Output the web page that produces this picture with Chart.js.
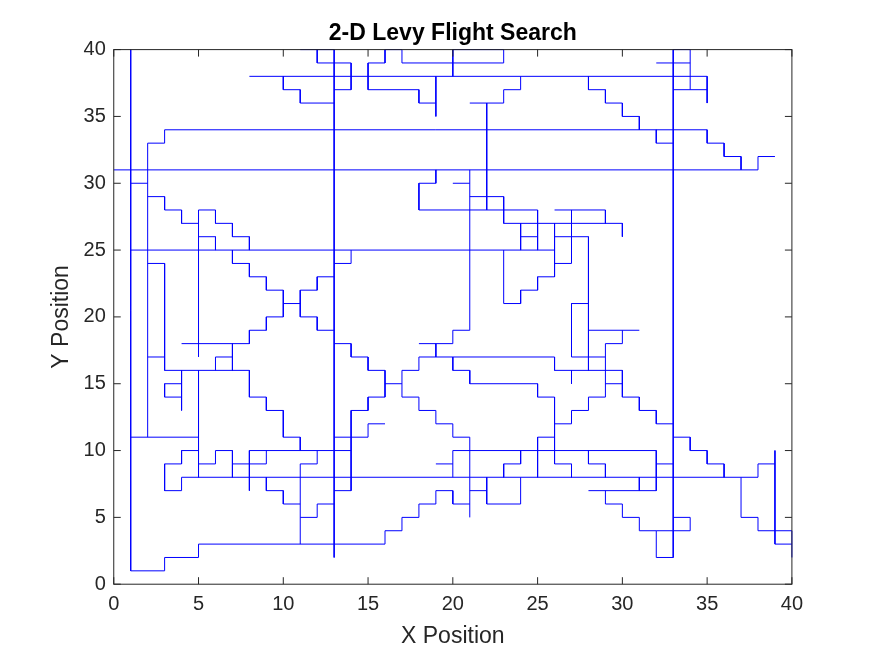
<!DOCTYPE html>
<html>
<head>
<meta charset="utf-8">
<script src="https://cdn.jsdelivr.net/npm/chart.js@4.4.1/dist/chart.umd.min.js"></script>
<style>
  html, body { margin: 0; padding: 0; background: #fff; }
</style>
</head>
<body>
<canvas id="chart" width="875" height="656"></canvas>
<script>
const upperSteps = [
  8,38, 35,38, 35,36, null,null,
  10,38, 10,37, 11,37, 11,36, 13,36, null,null,
  12,40, 12,39, 14,39, 14,37, 13,37, null,null,
  17,39, 17,40, 16,40, 16,39, 15,39, 15,37, 18,37, 18,36, 19,36, null,null,
  19,38, 19,35, null,null,
  17,39, 23,39, 23,40, 20,40, 20,38, null,null,
  21,36, 23,36, 23,37, 24,37, 24,38, null,null,
  22,36, 22,28, null,null,
  28,38, 28,37, 29,37, 29,36, 30,36, 30,35, 31,35, 31,34, null,null,
  32,39, 34,39, null,null,
  33,37, 35,37, null,null,
  32,34, 32,33, 33,33, null,null,
  1,30, 2,30
];

const longRuns = [
  2,11, 2,33, 3,33, 3,34, 35,34, 35,33, 36,33, 36,32, 37,32, 37,31, null,null,
  0,31, 38,31, 38,32, 39,32, null,null,
  11,40, 13,40, 13,2, null,null,
  34,37, 34,40, 33,40, 33,2, 32,2, 32,4, 31,4, 31,5, 30,5, 30,6, 29,6, 29,7, null,null,
  32,4, 34,4, 34,5, 33,5, null,null,
  1,40, 1,1, 3,1, 3,2, 5,2, 5,3, 16,3, 16,4, 17,4, 17,5, 18,5, 18,6, 19,6, 19,7, 20,7, 20,6, 21,6, null,null,
  1,25, 26,25
];

const middleSteps = [
  26,27, 26,23, 25,23, 25,22, 24,22, 24,21, 23,21, 23,25, null,null,
  2,29, 3,29, 3,28, 4,28, 4,27, 5,27, null,null,
  5,17, 5,28, 6,28, 6,27, 7,27, 7,26, 8,26, 8,25, null,null,
  5,26, 6,26, 6,25, null,null,
  7,25, 7,24, 8,24, 8,23, 9,23, 9,22, 10,22, 10,20, 9,20, 9,19, 8,19, 8,18, 4,18, null,null,
  10,21, 11,21, null,null,
  13,23, 12,23, 12,22, 11,22, 11,20, 12,20, 12,19, 13,19, null,null,
  2,24, 3,24, 3,16, 8,16, 8,14, 9,14, 9,13, 10,13, 10,11, 11,11, 11,10, null,null,
  2,17, 3,17, null,null,
  6,16, 6,17, 7,17, null,null,
  7,18, 7,16, null,null,
  4,16, 4,13, null,null,
  4,15, 3,15, 3,14, 4,14, null,null,
  1,11, 5,11, null,null,
  5,16, 5,8, null,null,
  13,24, 14,24, 14,25, null,null,
  13,18, 14,18, 14,17, 15,17, 15,16, 16,16, 16,14, 15,14, 15,13, 14,13, 14,7, 13,7, null,null,
  16,15, 17,15, null,null,
  13,11, 15,11, 15,12, 16,12, null,null,
  18,18, 20,18, 20,19, 21,19, 21,31, null,null,
  19,18, 19,17, null,null,
  21,5, 21,11, 20,11, 20,12, 19,12, 19,13, 18,13, 18,14, 17,14, 17,16, 18,16, 18,17,
    26,17, 26,16, 30,16, 30,14, 31,14, 31,13, 32,13, 32,12, 33,12, null,null,
  20,17, 20,16, 21,16, 21,15, 25,15, 25,14, 26,14, 26,9, 27,9, 27,8, null,null,
  26,12, 27,12, 27,13, 28,13, 28,14, 29,14, 29,18, 30,18, 30,19, null,null,
  28,19, 31,19, null,null,
  29,15, 30,15, null,null,
  27,16, 27,15, null,null,
  28,21, 27,21, 27,17, 29,17, null,null,
  26,26, 28,26, 28,16, null,null,
  26,24, 27,24, 27,28, null,null,
  26,28, 29,28, 29,27, null,null,
  23,27, 30,27, 30,26, null,null,
  21,29, 23,29, 23,27, null,null,
  24,27, 24,25, null,null,
  24,26, 25,26, null,null,
  19,31, 19,30, 18,30, 18,28, 25,28, 25,25, null,null,
  20,30, 21,30
];

const lowerSteps = [
  20,8, 20,10, 32,10, 32,7, 28,7, null,null,
  32,9, 33,9, null,null,
  19,9, 20,9, null,null,
  24,10, 24,9, 23,9, 23,8, null,null,
  26,11, 25,11, 25,8, null,null,
  33,11, 34,11, 34,10, 35,10, 35,9, 36,9, 36,8, null,null,
  5,10, 4,10, 4,9, 3,9, 3,7, 4,7, 4,8, 38,8, 38,9, 39,9, null,null,
  39,10, 39,3, 40,3, null,null,
  40,2, 40,4, 38,4, 38,5, 37,5, 37,8, null,null,
  5,9, 6,9, 6,10, 7,10, 7,8, null,null,
  7,9, 9,9, 9,10, null,null,
  8,10, 8,7, null,null,
  9,8, 9,7, 10,7, 10,6, 11,6, null,null,
  11,3, 11,9, 12,9, 12,10, null,null,
  11,5, 12,5, 12,6, 13,6, null,null,
  28,10, 28,9, 29,9, 29,8, null,null,
  31,8, 31,7, null,null,
  8,10, 14,10, null,null,
  21,7, 22,7, null,null,
  22,8, 22,6, 24,6, 24,8
];

const tickValues = [0, 5, 10, 15, 20, 25, 30, 35, 40];

const FONT = '"Liberation Sans", Arial, Helvetica, sans-serif';
const AXIS_COLOR = '#262626';

function toPoints(flat) {
  const pts = [];
  for (let i = 0; i < flat.length; i += 2) {
    pts.push({ x: flat[i], y: flat[i + 1] });
  }
  return pts;
}

function walkSet(flat) {
  return {
    data: toPoints(flat),
    borderColor: '#0000ff',
    borderWidth: 1,
    pointRadius: 0,
    fill: false,
    tension: 0,
    spanGaps: false,
    clip: false
  };
}

// MATLAB style box with inward ticks on all four sides
const boxTicks = {
  id: 'boxTicks',
  afterDraw(chart) {
    const { ctx, chartArea: a, scales: { x, y } } = chart;
    ctx.save();
    ctx.strokeStyle = AXIS_COLOR;
    ctx.lineWidth = 1;
    ctx.strokeRect(a.left, a.top, a.right - a.left, a.bottom - a.top);
    ctx.beginPath();
    tickValues.forEach(v => {
      const px = x.getPixelForValue(v);
      const py = y.getPixelForValue(v);
      ctx.moveTo(px, a.bottom); ctx.lineTo(px, a.bottom - 7);
      ctx.moveTo(px, a.top); ctx.lineTo(px, a.top + 7);
      ctx.moveTo(a.left, py); ctx.lineTo(a.left + 7, py);
      ctx.moveTo(a.right, py); ctx.lineTo(a.right - 7, py);
    });
    ctx.stroke();
    ctx.restore();
  }
};

new Chart(document.getElementById('chart').getContext('2d'), {
  type: 'line',
  data: {
    datasets: [walkSet(longRuns), walkSet(upperSteps), walkSet(middleSteps), walkSet(lowerSteps)]
  },
  options: {
    responsive: false,
    devicePixelRatio: 1,
    animation: false,
    // left padding shifts the title so it centres over the plot box
    layout: { padding: { left: 30.6, right: 0, top: 0, bottom: 0 } },
    plugins: {
      legend: { display: false },
      tooltip: { enabled: false },
      title: {
        display: true,
        text: '2-D Levy Flight Search',
        color: '#000',
        font: { family: FONT, size: 23, weight: 'bold' },
        padding: { top: 20, bottom: 2 }
      }
    },
    scales: {
      x: {
        type: 'linear',
        min: 0,
        max: 40,
        afterFit(s) { s.height = 71.8; },
        grid: { display: false, drawTicks: false },
        border: { display: false },
        ticks: {
          stepSize: 5,
          padding: 8,
          maxRotation: 0,
          autoSkip: false,
          color: AXIS_COLOR,
          font: { family: FONT, size: 20 }
        },
        title: {
          display: true,
          text: 'X Position',
          color: AXIS_COLOR,
          font: { family: FONT, size: 23 },
          padding: { top: 0, bottom: 6 }
        }
      },
      y: {
        type: 'linear',
        min: 0,
        max: 40,
        afterFit(s) { s.width = 83.15; },
        grid: { display: false, drawTicks: false },
        border: { display: false },
        ticks: {
          stepSize: 5,
          padding: 8,
          autoSkip: false,
          color: AXIS_COLOR,
          font: { family: FONT, size: 20 }
        },
        title: {
          display: true,
          text: 'Y Position',
          color: AXIS_COLOR,
          font: { family: FONT, size: 23 },
          padding: { top: 17.6, bottom: 0 }
        }
      },
      // empty right margin so the plot box ends where the reference does
      yRight: {
        type: 'linear',
        position: 'right',
        min: 0,
        max: 40,
        afterFit(s) { s.width = 83.1; },
        grid: { display: false, drawTicks: false },
        border: { display: false },
        ticks: { display: false }
      }
    }
  },
  plugins: [boxTicks]
});
</script>
</body>
</html>
